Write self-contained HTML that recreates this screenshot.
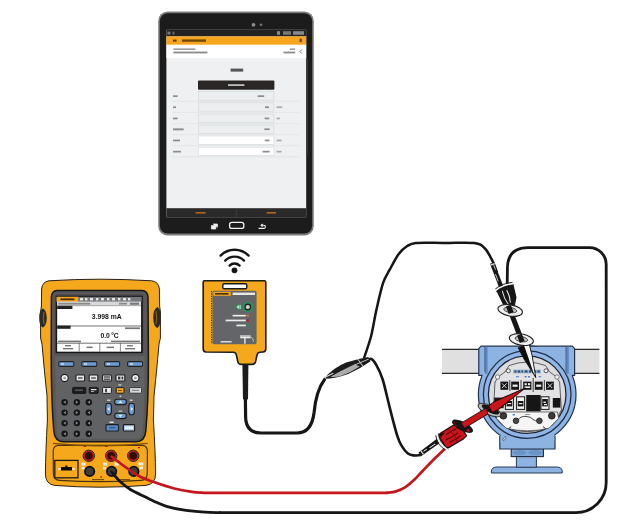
<!DOCTYPE html>
<html>
<head>
<meta charset="utf-8">
<title>Calibration setup</title>
<style>
html,body{margin:0;padding:0;background:#fff;}
body{width:627px;height:529px;overflow:hidden;font-family:"Liberation Sans",sans-serif;}
svg{display:block;position:absolute;left:0;top:0;}
text{font-family:"Liberation Sans",sans-serif;}
</style>
</head>
<body>
<svg width="627" height="529" viewBox="0 0 627 529">
<defs>
  <filter id="soft" x="-5%" y="-5%" width="110%" height="110%"><feGaussianBlur stdDeviation="0.5"/></filter>
</defs>
<rect width="627" height="529" fill="#ffffff"/>
<g filter="url(#soft)">

<!-- ================= TABLET ================= -->
<g id="tablet">
  <rect x="158.2" y="11.6" width="155.6" height="223.8" rx="9.4" ry="9.4" fill="#7d7d7d"/>
  <rect x="159.8" y="13.2" width="152.4" height="220.4" rx="8" ry="8" fill="#1b1b1c"/>
  <!-- camera -->
  <circle cx="253.5" cy="24.8" r="1.9" fill="#8c8c8c"/>
  <circle cx="261" cy="24.8" r="1.4" fill="#707070"/>
  <!-- screen -->
  <rect x="166.4" y="29.8" width="139.8" height="187.4" fill="#eef0f1"/>
  <!-- status bar -->
  <rect x="166.4" y="29.8" width="139.8" height="6.6" fill="#222"/>
  <rect x="167.5" y="31.6" width="3" height="3" fill="#777"/>
  <rect x="172.5" y="31.6" width="2" height="3" fill="#666"/>
  <rect x="277" y="31.2" width="3" height="3.6" fill="#888"/>
  <rect x="283" y="31.2" width="8" height="3.6" fill="#777"/>
  <rect x="293" y="31.2" width="11" height="3.6" fill="#888"/>
  <!-- orange bar -->
  <rect x="166.4" y="36.4" width="139.8" height="8.4" fill="#f6a51d"/>
  <rect x="166.4" y="44.2" width="139.8" height="1" fill="#f9c872"/>
  <rect x="173" y="39.6" width="3.5" height="2" fill="#5b3a05"/>
  <rect x="182" y="39.4" width="24" height="2.4" fill="#5b3a05" opacity=".85"/>
  <rect x="299.6" y="38.6" width="2.2" height="3.6" fill="#6a4508"/>
  <!-- white header -->
  <rect x="166.4" y="45.2" width="139.8" height="13" fill="#ffffff"/>
  <rect x="173.4" y="48.4" width="22" height="1.6" fill="#9a9a9a"/>
  <rect x="173.4" y="51.6" width="34" height="1.8" fill="#8a8a8a"/>
  <rect x="289.8" y="48.4" width="5.4" height="1.6" fill="#9a9a9a"/>
  <rect x="283.5" y="51.6" width="11.7" height="1.8" fill="#8a8a8a"/>
  <path d="M301.8 49.6 l-1.8 2 l1.8 2" fill="none" stroke="#555" stroke-width=".8"/>
  <!-- title -->
  <rect x="230.6" y="68.6" width="12.6" height="3" fill="#555"/>
  <!-- black button -->
  <rect x="198" y="80.6" width="76.4" height="9.2" rx="1" fill="#2b2826"/>
  <rect x="228" y="84.2" width="16.4" height="1.8" fill="#bdbdbd"/>
  <!-- table rows -->
  <g stroke="#dfe2e4" stroke-width=".7">
    <line x1="172" y1="101.3" x2="299" y2="101.3"/>
    <line x1="172" y1="112.4" x2="299" y2="112.4"/>
    <line x1="172" y1="123.6" x2="299" y2="123.6"/>
    <line x1="172" y1="134.6" x2="299" y2="134.6"/>
    <line x1="172" y1="145.6" x2="299" y2="145.6"/>
    <line x1="172" y1="156.8" x2="299" y2="156.8"/>
  </g>
  <g fill="#eceeef" stroke="#d3d6d8" stroke-width=".6">
    <rect x="198.3" y="91.6" width="75.6" height="8.6"/>
    <rect x="198.3" y="102.8" width="75.6" height="8.4"/>
    <rect x="198.3" y="114" width="75.6" height="8.4"/>
    <rect x="198.3" y="125" width="75.6" height="8.4"/>
  </g>
  <g fill="#ffffff" stroke="#d6d9db" stroke-width=".6">
    <rect x="198.3" y="136" width="75.6" height="8.4"/>
    <rect x="198.3" y="147.2" width="75.6" height="8.4"/>
  </g>
  <g fill="#8a8c8e">
    <rect x="173" y="95.3" width="4.6" height="1.7"/>
    <rect x="173" y="106.4" width="3" height="1.7"/>
    <rect x="173" y="117.6" width="4.6" height="1.7"/>
    <rect x="173" y="128.4" width="10.6" height="1.9"/>
    <rect x="173" y="139.6" width="7" height="1.7"/>
    <rect x="173" y="150.8" width="8" height="1.7"/>
    <rect x="257.6" y="95.3" width="6.6" height="1.7"/>
    <rect x="265" y="106.4" width="4" height="1.7"/>
    <rect x="264.6" y="117.6" width="4.6" height="1.7"/>
    <rect x="264.4" y="128.4" width="5.2" height="1.7"/>
    <rect x="264.8" y="139.6" width="4.6" height="1.7"/>
    <rect x="262.6" y="150.8" width="7" height="1.7"/>
    <rect x="276.6" y="106.4" width="5.6" height="1.7" opacity=".7"/>
    <rect x="276.6" y="117.6" width="3.2" height="1.7" opacity=".7"/>
    <rect x="276.6" y="139.6" width="5" height="1.7" opacity=".7"/>
    <rect x="276.6" y="150.8" width="5" height="1.7" opacity=".7"/>
  </g>
  <!-- bottom bar -->
  <rect x="166.4" y="208.2" width="139.8" height="9" fill="#2c2a29"/>
  <line x1="236.3" y1="208.2" x2="236.3" y2="217.2" stroke="#4a4846" stroke-width=".6"/>
  <rect x="195.6" y="212" width="10" height="1.6" fill="#b4651e"/>
  <rect x="266.6" y="212" width="9.4" height="1.6" fill="#b4651e"/>
  <!-- scrollbar hint -->
  <rect x="306.3" y="58" width="1.6" height="98" fill="#3a3a3a"/>
  <!-- hardware buttons -->
  <rect x="229.6" y="222.4" width="14.2" height="6" rx="2.2" fill="none" stroke="#f2f2f2" stroke-width="1.3"/>
  <path d="M211.4 225.6 h4.4 v3.4 h-4.4 z M213 224 h4.4 v3.4" fill="#f2f2f2" stroke="#f2f2f2" stroke-width=".7"/>
  <path d="M258.6 228.4 h5.2 a1.6 1.6 0 0 0 0 -3.2 h-2.4 m1.2 -1.4 l-1.5 1.4 l1.5 1.4" fill="none" stroke="#f2f2f2" stroke-width="1.1"/>
</g>


<!-- ================= CALIBRATOR ================= -->
<g id="calibrator">
  <!-- outer holster -->
  <path d="M49 280.8 Q100 277.6 151.6 280.8 Q158.6 281.6 159.4 289 L159.6 306 L160.4 312 L160.4 338 L159 344 Q156.6 372 154 396 L153.4 420 Q155.4 452 155.6 474 Q155.6 484 146 485.4 Q100 489 54.6 485.4 Q45.4 484 45.4 474 Q45.6 452 47.4 420 L47 396 Q44.4 372 42 344 L40.6 338 L40.6 312 L41.4 306 L41.6 289 Q42.4 281.6 49 280.8 Z" fill="#f5a81f" stroke="#2a2015" stroke-width="1"/>
  <!-- side grips -->
  <path d="M42.6 308.6 Q39 311 39.2 318 Q39 325 42.6 327.6 Q46.6 326 46.8 318 Q46.6 310 42.6 308.6 Z" fill="#2b2927"/><path d="M44 312 Q42.6 318 44 324" stroke="#8a5e12" stroke-width="1.2" fill="none"/>
  <path d="M157.4 307 Q161 309.6 160.8 317.4 Q161 325.4 157.4 328 Q153.4 326.4 153.2 317.4 Q153.4 309 157.4 307 Z" fill="#2b2927"/><path d="M156 311 Q157.4 317.4 156 324" stroke="#8a5e12" stroke-width="1.2" fill="none"/>
  <!-- dark inner body -->
  <path d="M57 290.6 L142 290.6 Q147.6 291 148 297 L148.4 356 Q148.6 400 145.8 431 Q145 441.6 136 441.8 L63.6 441.8 Q54.6 441.6 53.8 431 Q51.2 400 51.2 356 L51.4 297 Q51.8 291 57 290.6 Z" fill="#58595b" stroke="#161616" stroke-width="1.5"/>
  <!-- keypad grey -->
  <path d="M55.4 356.6 L144.4 356.6 Q144.8 400 142.6 431 Q142 438.6 135.6 438.8 L64 438.8 Q57.6 438.6 57 431 Q55 400 55.4 356.6 Z" fill="#616264"/>
  <!-- bezel -->
  <rect x="54.6" y="294" width="89.2" height="60.4" rx="2" fill="#505153"/>
  <rect x="56.4" y="296.4" width="85.6" height="56" fill="none" stroke="#141414" stroke-width="1.4"/>
  <rect x="56.6" y="296.8" width="85" height="5.2" fill="#77787a"/>
  <rect x="56.6" y="296.8" width="21.6" height="5" fill="#f6a51d"/>
  <rect x="60.4" y="298.4" width="14" height="1.8" fill="#4a2f04"/>
  <g fill="#e7e7e7"><rect x="80" y="298" width="3" height="2.4"/><rect x="85" y="298" width="2.4" height="2.4"/><rect x="90" y="298" width="3" height="2.4"/><rect x="96" y="298" width="2.4" height="2.4"/><rect x="101" y="298" width="3" height="2.4"/><rect x="107" y="298" width="2.4" height="2.4"/><rect x="112" y="298" width="3" height="2.4"/><rect x="118" y="298" width="2.4" height="2.4"/><rect x="123" y="298" width="3" height="2.4"/><rect x="128" y="298" width="2.4" height="2.4"/></g>
  <!-- LCD -->
  <rect x="57.2" y="301.8" width="83.8" height="49.8" fill="#ffffff"/>
  <rect x="57.2" y="301.8" width="83.8" height="3.6" fill="#d8d8d8"/>
  <rect x="58.2" y="302.8" width="32" height="1.8" fill="#8a8a8a"/>
  <rect x="119" y="302.8" width="8" height="1.8" fill="#8a8a8a"/>
  <rect x="130" y="302.6" width="9" height="2.2" fill="#7a7a7a"/>
  <rect x="57.2" y="305.8" width="15.2" height="3.2" fill="#222"/>
  <line x1="57.2" y1="305.7" x2="141" y2="305.7" stroke="#555" stroke-width=".5"/>
  <text x="106.8" y="318.8" font-size="6.8" font-weight="bold" text-anchor="middle" fill="#111">3.998 mA</text>
  <line x1="57.2" y1="326" x2="141" y2="326" stroke="#333" stroke-width=".7"/>
  <rect x="57.2" y="325.6" width="13.4" height="3.2" fill="#222"/>
  <rect x="125" y="327.4" width="15" height="1.7" fill="#777"/>
  <text x="109.6" y="337.5" font-size="6.8" font-weight="bold" text-anchor="middle" fill="#111" letter-spacing="-.15">0.0 °C</text>
  <rect x="58" y="340.6" width="23" height="1.6" fill="#777"/>
  <rect x="111" y="340.6" width="29" height="1.6" fill="#777"/>
  <line x1="57.2" y1="343.2" x2="141" y2="343.2" stroke="#333" stroke-width=".7"/>
  <g stroke="#333" stroke-width=".6"><line x1="79.2" y1="343.2" x2="79.2" y2="351.6"/><line x1="99.8" y1="343.2" x2="99.8" y2="351.6"/><line x1="120.4" y1="343.2" x2="120.4" y2="351.6"/></g>
  <g fill="#777"><rect x="65" y="345" width="6" height="1.4"/><rect x="63" y="348" width="10" height="1.4"/><rect x="86.6" y="346.6" width="6" height="1.5"/><rect x="106.6" y="346.6" width="7.4" height="1.5"/><rect x="127" y="345" width="6" height="1.4"/><rect x="125" y="348" width="10" height="1.4"/></g>
  <!-- F keys -->
  <g fill="#6c9bd1" stroke="#232323" stroke-width="1.1">
    <rect x="58.8" y="361.6" width="15" height="4.8" rx="1.2"/>
    <rect x="81.8" y="361.6" width="15" height="4.8" rx="1.2"/>
    <rect x="104.6" y="361.6" width="15" height="4.8" rx="1.2"/>
    <rect x="127.6" y="361.6" width="15" height="4.8" rx="1.2"/>
  </g>
  <g fill="#e8eef6"><rect x="61" y="363.4" width="3" height="1.2"/><rect x="84" y="363.4" width="3" height="1.2"/><rect x="107" y="363.4" width="3" height="1.2"/><rect x="130" y="363.4" width="3" height="1.2"/></g>
  <!-- row 1 -->
  <circle cx="64.6" cy="378" r="3.6" fill="#ececec" stroke="#232323" stroke-width="1.1"/>
  <circle cx="64.6" cy="378" r="1.3" fill="#9a9a9a"/>
  <circle cx="135.4" cy="378" r="3.6" fill="#ececec" stroke="#232323" stroke-width="1.1"/>
  <circle cx="135.4" cy="378" r="1.3" fill="#9a9a9a"/>
  <g fill="#e6e6e6" stroke="#202020" stroke-width="1.1">
    <rect x="76" y="375" width="8.6" height="6" rx=".8"/>
    <rect x="89.2" y="375" width="8.6" height="6" rx=".8"/>
    <rect x="102.6" y="375" width="8.8" height="6" rx=".8"/>
    <rect x="116" y="375" width="8.8" height="6" rx=".8"/>
  </g>
  <g fill="#333"><rect x="78" y="377.4" width="4.6" height="1.2"/><rect x="91.2" y="377.4" width="4.6" height="1.2"/><rect x="104" y="376.4" width="6" height="1.2"/><rect x="104" y="378.6" width="6" height="1.2"/><rect x="118" y="376.6" width="2.4" height="2.8"/><rect x="121.6" y="376.6" width="1.6" height="2.8"/></g>
  <!-- row 2 -->
  <rect x="72.6" y="387.4" width="13.2" height="6" rx=".8" fill="#1e1e1e" stroke="#111" stroke-width=".8"/>
  <rect x="75" y="389.6" width="8" height="1" fill="#777"/>
  <rect x="89.2" y="387.4" width="9" height="6" rx=".8" fill="#2a2a2a" stroke="#111" stroke-width=".8"/>
  <rect x="91" y="389" width="5.4" height="1.2" fill="#ddd"/>
  <rect x="91" y="391" width="3" height="1" fill="#aaa"/>
  <rect x="102.6" y="387.4" width="8.8" height="6" rx=".8" fill="#e9e9e9" stroke="#1e1e1e" stroke-width="1"/>
  <rect x="105" y="388.8" width="2" height="3.4" fill="#444"/>
  <rect x="116.2" y="387.6" width="7.8" height="5.6" rx=".8" fill="#f6a51d" stroke="#1e1e1e" stroke-width="1"/>
  <rect x="118" y="390" width="4" height="1" fill="#7a4b06"/>
  <rect x="118.4" y="384.4" width="3" height="1.2" fill="#e0e0e0"/>
  <rect x="129.6" y="387.6" width="12" height="5.6" rx=".8" fill="#d9d9d9" stroke="#3a3a3a" stroke-width="1"/>
  <rect x="132" y="389.8" width="7" height="1.2" fill="#888"/>
  <!-- numeric pad -->
  <g fill="#171717">
    <circle cx="64.6" cy="402.2" r="3.2"/><circle cx="76.9" cy="402.2" r="3.2"/><circle cx="88.8" cy="402.2" r="3.2"/>
    <circle cx="64.6" cy="412.6" r="3.2"/><circle cx="76.9" cy="412.6" r="3.2"/><circle cx="88.8" cy="412.6" r="3.2"/>
    <circle cx="64.6" cy="423.1" r="3.2"/><circle cx="76.9" cy="423.1" r="3.2"/><circle cx="88.8" cy="423.1" r="3.2"/>
    <circle cx="64.6" cy="433.8" r="3.2"/><circle cx="76.9" cy="433.8" r="3.2"/><circle cx="88.8" cy="433.8" r="3.2"/>
  </g>
  <g fill="#8c8c8c">
    <path d="M65.8 400.6 l-2.4 1.6 l2.4 1.6z M75.8 400.6 l2.4 1.6 l-2.4 1.6z M90 400.6 l-2.4 1.6 l2.4 1.6z"/>
    <path d="M65.8 411 l-2.4 1.6 l2.4 1.6z M75.8 411 l2.4 1.6 l-2.4 1.6z M90 411 l-2.4 1.6 l2.4 1.6z"/>
    <path d="M65.8 421.5 l-2.4 1.6 l2.4 1.6z M75.8 421.5 l2.4 1.6 l-2.4 1.6z M90 421.5 l-2.4 1.6 l2.4 1.6z"/>
    <path d="M65.8 432.2 l-2.4 1.6 l2.4 1.6z M75.8 432.2 l2.4 1.6 l-2.4 1.6z M90 432.2 l-2.4 1.6 l2.4 1.6z"/>
  </g>
  <!-- d-pad -->
  <g fill="#6c9bd1" stroke="#1d1d1d" stroke-width="1.1">
    <rect x="114.6" y="399.2" width="11.8" height="5.4" rx="2.7"/>
    <rect x="114.6" y="413.2" width="11.8" height="5.4" rx="2.7"/>
    <rect x="105.8" y="403.2" width="5.6" height="11.6" rx="2.8"/>
    <rect x="128.8" y="403.2" width="5.6" height="11.6" rx="2.8"/>
  </g>
  <g fill="#e8f0fa"><path d="M120.4 400.4 l2 2.6 h-4z"/><path d="M120.4 417.4 l2 -2.6 h-4z"/><path d="M107.2 409 l2.4 -2 v4z"/><path d="M133.2 409 l-2.4 -2 v4z"/></g>
  <g fill="#e0e0e0"><rect x="119.6" y="395.6" width="1.6" height="1.4"/><rect x="107" y="399.6" width="3.6" height="1.2"/><rect x="129.6" y="399.6" width="3" height="1.2"/><rect x="118.6" y="410.6" width="3.6" height="1"/></g>
  <rect x="106" y="424.6" width="12.4" height="6.4" rx=".8" fill="#5d8dc6" stroke="#1d1d1d" stroke-width="1.1"/>
  <rect x="109" y="427" width="6.4" height="1.4" fill="#2d5b95"/>
  <rect x="109.6" y="421.6" width="4" height="1.4" fill="#efefef"/>
  <rect x="123.4" y="424.6" width="11.2" height="6.4" rx=".8" fill="#a9c8ea" stroke="#1d1d1d" stroke-width="1.1"/>
  <rect x="125" y="426.4" width="8" height="2.8" fill="#e6f0fb"/>
  <!-- lower jack panel -->
  <path d="M58 445.4 L142.6 445.4 Q147.2 446 147.4 451 L147.2 474 Q147 480 141 480.4 Q100 483 59.6 480.4 Q53.6 480 53.4 474 L53.2 451 Q53.4 446 58 445.4 Z" fill="#f5a81f" stroke="#4a3208" stroke-width="1.2"/>
  <path d="M53 443.4 Q100 448.4 147.6 443.4" fill="none" stroke="#7a4f07" stroke-width="1.2"/>
  <!-- port box -->
  <rect x="54.8" y="460.4" width="23.2" height="17.4" fill="#f5a81f" stroke="#1b1b1b" stroke-width="1.3"/>
  <path d="M61 467 h4.4 v-1.6 h2 v1.6 h4.6 v3.6 h-11z" fill="#111"/>
  <rect x="58" y="468.2" width="2.6" height="1.6" fill="#eee"/>
  <rect x="72.2" y="468.2" width="2.6" height="1.6" fill="#eee"/>
  <!-- jacks top (red) -->
  <g fill="#2a0d0d" stroke="#b8141d" stroke-width="1.5">
    <circle cx="88.8" cy="455.8" r="4.5"/><circle cx="111.2" cy="455.8" r="4.5"/><circle cx="133.2" cy="455.8" r="4.5"/>
  </g>
  <g fill="none" stroke="#111" stroke-width=".9">
    <circle cx="88.8" cy="455.8" r="5.7"/><circle cx="111.2" cy="455.8" r="5.7"/><circle cx="133.2" cy="455.8" r="5.7"/>
  </g>
  <!-- jacks bottom (black) -->
  <g fill="#3c3c3c" stroke="#111" stroke-width="1.8">
    <circle cx="89.6" cy="471.4" r="4.7"/><circle cx="111.6" cy="471.4" r="4.7"/><circle cx="133.8" cy="471.4" r="4.7"/>
  </g>
  <g fill="#e9e9e9">
    <rect x="81.4" y="462.6" width="4.2" height="3"/><rect x="81.6" y="467" width="3" height="2.4"/>
    <rect x="103" y="462.6" width="4.2" height="3"/><rect x="114.6" y="462.6" width="4.2" height="3"/>
    <rect x="103" y="467" width="3" height="2.4"/>
    <rect x="138.4" y="462.4" width="5" height="3"/><rect x="139.4" y="466.6" width="3.6" height="2.6"/>
  </g>
  <g fill="#b8141d"><rect x="83.6" y="445.8" width="2.4" height="1.2"/><rect x="105" y="445.8" width="2.4" height="1.2"/><rect x="138" y="447" width="2" height="1.2"/><rect x="100.4" y="476.4" width="1.6" height="1.4"/></g>
  <g fill="#7a4f07"><rect x="92" y="479" width="12" height="1.2"/><rect x="118" y="479" width="12" height="1.2"/></g>
</g>


<!-- ================= WIRELESS MODULE ================= -->
<g id="module">
  <path d="M204.4 280.8 L264.4 280.8 Q265.8 280.8 265.8 282.2 L265.8 349 Q265.8 351.8 263 352 L259.6 352.2 Q257.4 352.6 257 355 L255.6 361.6 Q255 364.4 252 364.4 L241.4 364.4 Q238.4 364.4 237.8 361.6 L236.4 355 Q236 352.6 233.8 352.2 L206 352 Q203.2 351.8 203.2 349 L203.2 282.2 Q203.2 280.8 204.4 280.8 Z" fill="#f5a81f" stroke="#1a1a1a" stroke-width="1.6"/>
  <rect x="222.8" y="283.8" width="24" height="5" rx="1.4" fill="#ffffff" stroke="#1a1a1a" stroke-width="1.4"/>
  <rect x="212.4" y="290.8" width="44.2" height="53.4" rx="1.6" fill="#646567"/>
  <line x1="211.6" y1="291" x2="211.6" y2="344" stroke="#3a2a08" stroke-width="1" stroke-dasharray="1.2 1.2"/>
  <rect x="213.4" y="291.8" width="17.4" height="4" fill="#f5a81f"/>
  <rect x="215" y="293" width="13.6" height="1.6" fill="#4a2f04"/>
  <rect x="232.6" y="292.6" width="22.4" height="2.4" fill="#e8e8e8"/>
  <!-- green button -->
  <path d="M242.8 304 L247.8 301.2 L252.8 304 L252.8 310 L247.8 312.8 L242.8 310 Z M243.4 307 L238.4 303.4 L234.6 307 L238.4 310.6 Z" fill="#2f8f5a"/>
  <circle cx="247.8" cy="307" r="3.4" fill="#222"/>
  <circle cx="247.8" cy="307" r="2.1" fill="#cfd6d2"/>
  <path d="M236.6 307 l2.2 -2 v4z" fill="#dfeee6"/>
  <rect x="239.6" y="305" width="1" height="4" fill="#dfeee6"/>
  <!-- led labels -->
  <rect x="232.6" y="314.8" width="13.2" height="1.7" fill="#ececec"/>
  <rect x="225.6" y="319.6" width="20.2" height="1.7" fill="#ececec"/>
  <rect x="236.4" y="324.6" width="9.4" height="1.7" fill="#ececec"/>
  <circle cx="247.8" cy="315.6" r="1.2" fill="#d9801c"/>
  <circle cx="247.8" cy="320.4" r="1.2" fill="#c4161c"/>
  <circle cx="247.8" cy="325.4" r="1.2" fill="#2e8b57"/>
  <!-- bottom labels -->
  <rect x="240" y="335.4" width="10.6" height="1.3" fill="#e6e6e6"/>
  <path d="M240.2 337.6 h10.4 M244.9 337.6 v6.2" stroke="#f0f0f0" stroke-width="1.3" fill="none"/>
  <path d="M250.8 337 q3 1 2.6 4.6" stroke="#ddd" stroke-width=".7" fill="none"/>
  <rect x="220.6" y="341" width="11" height="1.5" fill="#dcdcdc"/>
  <!-- strain relief -->
  <path d="M242.4 364.6 L248.4 364.6 L248 399.4 L243 399.4 Z" fill="#1c1c1c"/>
  <rect x="243.2" y="399.6" width="4.4" height="1.3" fill="#e8e8e8"/>
</g>

<!-- ================= CABLES ================= -->
<g id="cables" fill="none" stroke-linecap="round" stroke-linejoin="round">
  <!-- module cable to splice -->
  <path d="M245.4 399 L245.6 417 Q246 432.8 261 433 L297 433 Q311.4 433 314 413 Q316 391 324.6 379.4" stroke="#151515" stroke-width="3.2"/>
  <!-- wire from splice up and over to black probe plug -->
  <path d="M364.2 357.6 C365.4 354.0 369.1 343.8 371.2 335.8 C373.2 327.8 374.5 318.2 376.5 309.4 C378.5 300.6 380.9 289.5 383.1 282.9 C385.3 276.3 387.1 274.5 389.7 269.7 C392.3 264.9 396.0 257.7 398.9 253.8 C401.8 249.9 404.0 248.1 406.9 246.3 C409.8 244.5 409.8 243.6 416.1 243.0 C422.5 242.4 435.3 243.0 445.0 243.0 C454.7 243.0 467.7 242.1 474.3 243.0 C480.9 243.9 481.8 245.4 484.9 248.5 C488.0 251.6 490.9 257.8 492.9 261.7 C494.8 265.6 496.0 270.0 496.6 271.6" stroke="#151515" stroke-width="2.5"/>
  <!-- wire from splice down to black plug near red probe -->
  <path d="M366.0 360.8 C366.9 360.5 369.6 358.3 371.3 358.9 C373.0 359.5 374.1 361.0 376.0 364.4 C377.9 367.8 380.4 372.4 382.7 379.5 C384.9 386.6 387.1 397.2 389.5 406.7 C391.9 416.1 395.3 429.6 397.4 436.2 C399.5 442.8 400.3 443.6 402.0 446.4 C403.7 449.2 405.7 451.7 407.6 453.2 C409.5 454.7 411.3 455.1 413.3 455.4 C415.3 455.7 418.6 455.2 419.6 455.2" stroke="#151515" stroke-width="2.6"/>
  <!-- right loop black wire -->
  <path d="M507.2 286 L507.4 268 Q507.8 247.6 528 247.6 L589.4 247.6 A16.8 16.8 0 0 1 606.2 264.4 L606.2 482.6 A30 30 0 0 1 576.2 512.6 L220 512.6" stroke="#151515" stroke-width="2.8"/><path d="M111.7 471.9 C113.2 473.6 117.4 479.1 120.6 482.1 C123.8 485.1 127.4 487.7 130.8 489.8 C134.2 491.9 137.2 493.0 141.0 494.9 C144.8 496.8 149.6 499.3 153.8 501.2 C158.1 503.1 161.4 504.8 166.5 506.3 C171.6 507.8 178.0 509.2 184.4 510.2 C190.8 511.2 198.9 511.8 204.8 512.2 C210.7 512.6 217.5 512.5 220.0 512.6" stroke="#151515" stroke-width="2.8"/>
  <!-- red wire -->
  <path d="M111.7 456.6 C113.6 458.1 118.7 462.3 123.2 465.5 C127.7 468.7 133.4 472.9 138.5 475.7 C143.6 478.5 147.9 480.0 153.8 482.1 C159.8 484.2 167.8 486.9 174.2 488.5 C180.6 490.1 187.0 491.1 192.0 491.8 C197.0 492.5 202.0 492.6 204.0 492.8 L387 492.8" stroke="#c4161c" stroke-width="2.7"/><path d="M447.3 446.4 C445.2 448.4 439.0 454.3 435.0 458.2 C431.0 462.1 426.9 466.5 423.5 470.0 C420.1 473.5 417.9 476.4 414.8 479.3 C411.7 482.2 408.1 485.4 405.0 487.4 C401.9 489.4 399.0 490.5 396.0 491.4 C393.0 492.3 388.5 492.6 387.0 492.8" stroke="#c4161c" stroke-width="2.7"/>
</g>
<!-- splice connector -->
<g id="splice" transform="translate(346.6,368.7) rotate(-23)">
  <path d="M-25 .6 Q-12 -6.2 2 -5.8 Q14 -5 24.6 -2.4 L25 2.4 Q12 5.2 0 5.6 Q-14 5 -25 .6 Z" fill="#1b1b1b"/>
  <path d="M-18 1.2 Q-6 -.4 9 -1 L13 3 Q2 5 -8 4.4 Q-14 3.6 -18 1.2 Z" fill="#ababab"/>
  <path d="M-22 -.6 L-14 -1" stroke="#d9d9d9" stroke-width="1.1"/>
  <path d="M9 -.4 L24 -.2" stroke="#cfcfcf" stroke-width=".9"/>
  <path d="M14 -4.6 L16 4.2" stroke="#d0d0d0" stroke-width=".9"/>
  <path d="M-23.4 -1.8 L-22.6 2.4" stroke="#d0d0d0" stroke-width=".9"/>
</g>

<!-- ================= TRANSMITTER ================= -->
<g id="transmitter">
  <!-- pipe -->
  <rect x="442" y="349.4" width="157.4" height="24" fill="#e0e0e1"/>
  <path d="M442 349.4 H599.4 M442 373.4 H599.4" stroke="#2a2a2a" stroke-width="1.3"/>
  <!-- base / stem -->
  <path d="M491.4 473 L491.4 471 Q491.8 467 497 467 L556.6 467 Q561.8 467 562.2 471 L562.2 473 Z" fill="#8db3e2" stroke="#2c3a52" stroke-width="1"/>
  <rect x="516.4" y="456" width="20" height="11.2" fill="#8db3e2" stroke="#2c3a52" stroke-width="1"/>
  <rect x="511.2" y="448.6" width="32.2" height="8" fill="#7fa6d6" stroke="#1f2a3c" stroke-width="1.1"/>
  <ellipse cx="519.4" cy="452.6" rx="6.6" ry="2.6" fill="#6b93c6"/>
  <ellipse cx="535.2" cy="452.6" rx="6.6" ry="2.6" fill="#6b93c6"/>
  <!-- housing -->
  <circle cx="527.2" cy="394.6" r="48.8" fill="#8db3e2" stroke="#24324a" stroke-width="1.2"/>
  <path d="M499.8 436 L499.8 449 L555 449 L555 436" fill="#8db3e2" stroke="#24324a" stroke-width="1.2"/>
  <rect x="500.6" y="432" width="53.6" height="11" fill="#8db3e2"/>
  <path d="M502.6 439.8 l2.2 -3.4 l1.4 .8 l-2.2 3.4z" fill="#d6e3f4" stroke="#2c3a52" stroke-width=".6"/>
  <path d="M481 346.2 L572.4 346.2 L574.6 348.6 L574.6 375.4 L478.8 375.4 L478.8 348.6 Z" fill="#8db3e2" stroke="#24324a" stroke-width="1.2" stroke-linejoin="round"/>
  <rect x="482.6" y="368" width="89.2" height="12" fill="#8db3e2"/>
  <rect x="485" y="346.8" width="2.6" height="27" fill="#5e86c0"/>
  <rect x="566.2" y="346.8" width="2.6" height="27" fill="#5e86c0"/>
  <path d="M484.8 346.8 V372 M566 346.8 V372" stroke="#2f4670" stroke-width=".7"/>
  <circle cx="527.2" cy="394.6" r="43.8" fill="#8fb6e6" stroke="#1f2d47" stroke-width="1.3"/>
  <circle cx="527.2" cy="394.6" r="38.8" fill="#dcdcde" stroke="#1f2433" stroke-width="1.3"/>
  <!-- inner plate -->
  <path d="M509 365.6 Q527 358.6 545.6 365.6 L549.6 372 Q556 375 559.6 382 L561.4 410 L553 424.6 Q541 431.6 527.2 431.6 Q513 431.6 501.6 424.6 L493.4 410 L495 382 Q498.6 375 505 372 Z" fill="#e2e2e4" stroke="#3c3c3c" stroke-width=".8"/>
  <circle cx="508.4" cy="370.8" r="2" fill="#f5f5f5" stroke="#333" stroke-width=".8"/>
  <circle cx="546" cy="370.8" r="2" fill="#f5f5f5" stroke="#333" stroke-width=".8"/>
  <circle cx="497.6" cy="377" r="2.2" fill="#f1f1f1" stroke="#555" stroke-width=".7"/>
  <circle cx="557" cy="377" r="2.2" fill="#f1f1f1" stroke="#555" stroke-width=".7"/>
  <!-- label strip -->
  <rect x="513" y="369.6" width="28" height="3.8" fill="#9fb6cf"/>
  <g fill="#30507c"><rect x="514.4" y="370.4" width="2" height="2.2"/><rect x="517.6" y="370.4" width="2.6" height="2.2"/><rect x="521.4" y="370.4" width="1.6" height="2.2"/><rect x="524.6" y="370.4" width="3" height="2.2"/><rect x="529" y="370.4" width="2" height="2.2"/><rect x="533.6" y="370.4" width="2.6" height="2.2"/><rect x="537.4" y="370.4" width="2.4" height="2.2"/></g>
  <g fill="#4f7fc0"><rect x="516" y="376.2" width="3" height="1"/><rect x="524.6" y="376" width="2" height="1.4"/><rect x="528" y="376" width="2" height="1.4"/><rect x="538.6" y="376.2" width="2.6" height="1"/></g>
  <!-- terminal row 1 -->
  <g fill="#161616">
    <rect x="500.4" y="381.6" width="7.8" height="8.2"/><rect x="511.2" y="381.6" width="7.8" height="8.2"/><rect x="523.2" y="381.6" width="8.2" height="8.2"/><rect x="534.8" y="381.6" width="7.8" height="8.2"/><rect x="546" y="381.6" width="7.8" height="8.2"/>
  </g>
  <g stroke="#161616" stroke-width=".8"><line x1="509.8" y1="380" x2="509.8" y2="391"/><line x1="521" y1="380" x2="521" y2="391"/><line x1="533.2" y1="378" x2="533.2" y2="392"/><line x1="544.4" y1="380" x2="544.4" y2="391"/></g>
  <g stroke="#f0f0f0" stroke-width=".9" fill="none">
    <path d="M502 383.4 l4.6 4.6 M506.6 383.4 l-4.6 4.6"/>
    <path d="M547.6 383.4 l4.6 4.6 M552.2 383.4 l-4.6 4.6"/>
  </g>
  <g fill="#f0f0f0"><rect x="512.6" y="384.6" width="5" height="2.2"/><rect x="536.2" y="384.6" width="5" height="2.2"/><rect x="524.6" y="383.2" width="2.2" height="2"/><rect x="528" y="383.2" width="2.2" height="2"/><rect x="524.6" y="386.4" width="5.6" height="1.6"/></g>
  <!-- terminal row 2 -->
  <rect x="494.2" y="397.6" width="9.4" height="10.6" fill="#161616"/>
  <rect x="505.4" y="396.8" width="8" height="12.6" fill="#f4f4f4" stroke="#161616" stroke-width="1"/>
  <rect x="516.6" y="396.8" width="8" height="12.6" fill="#f4f4f4" stroke="#161616" stroke-width="1"/>
  <rect x="541" y="396.8" width="8" height="12.6" fill="#f4f4f4" stroke="#161616" stroke-width="1"/>
  <g fill="#161616"><rect x="506.6" y="401" width="5.6" height="5.4"/><rect x="517.8" y="401" width="5.6" height="5.4"/><rect x="542.2" y="399" width="5.6" height="7.4"/></g>
  <g fill="#eee"><rect x="507.6" y="403" width="3.6" height="1.2"/><rect x="518.8" y="403" width="3.6" height="1.2"/><rect x="543.4" y="401.6" width="2.4" height="1.4"/><rect x="544" y="404" width="3" height="1.2"/></g>
  <rect x="526.2" y="395" width="14.4" height="16.4" fill="#141414"/>
  <rect x="552.8" y="398" width="7.6" height="9.6" fill="#141414"/>
  <!-- lower screws / jumper -->
  <path d="M497.6 412 L557.4 412 L558.6 418.4 L549 428.2 Q527.4 433.4 506 428.2 L496.4 418.4 Z" fill="#f5f5f5" stroke="#3a3a3a" stroke-width=".7"/>
  <circle cx="503.4" cy="415.8" r="3.3" fill="#3a3a3a" stroke="#161616" stroke-width=".9"/>
  <circle cx="551.8" cy="415.8" r="3.3" fill="#3a3a3a" stroke="#161616" stroke-width=".9"/>
  <path d="M518 420.4 Q520 416 526 416.4 Q531 416.6 533 419.4 Q535 421.4 539 420.6" fill="none" stroke="#333" stroke-width=".9"/>
  <circle cx="516" cy="420.8" r="2.8" fill="#4a4a4a" stroke="#161616" stroke-width=".8"/>
  <circle cx="539.4" cy="420.8" r="2.8" fill="#4a4a4a" stroke="#161616" stroke-width=".8"/>
  <rect x="512.6" y="414" width="2.4" height="1.4" fill="#4f7fc0"/>
  <rect x="525" y="414" width="5" height="1" fill="#999"/>
  <path d="M508.6 428.6 l2.6 -2 M545.6 428.6 l-2.6 -2" stroke="#333" stroke-width="1"/>
</g>

<!-- ================= BLACK PROBE ================= -->
<g id="blackprobe" transform="translate(535.8,377.5) rotate(249.1)">
  <!-- tip -->
  <path d="M0 0 L22 -4.4 L34 -5.8 L34 5.8 L22 4.4 Z" fill="#f6f6f6" stroke="#111" stroke-width=".9" stroke-linejoin="round"/>
  <path d="M4 -.5 L22 -4.4 L34 -5.8 L34 .4 L22 .2 Z" fill="#111"/>
  <!-- lower handle -->
  <rect x="42" y="-2.5" width="28" height="5" fill="#131313"/>
  <!-- ring 2 -->
  <g transform="translate(40.6,0) rotate(121)"><ellipse cx="0" cy="0" rx="12.2" ry="5.6" fill="#f2f2f2" stroke="#222" stroke-width="1.1"/><ellipse cx="0" cy="-.4" rx="6.4" ry="2.6" fill="#bdbdbd" stroke="#333" stroke-width=".8"/></g>
  <rect x="38" y="-2.5" width="8" height="5" fill="#131313"/>
  <!-- plug body -->
  <path d="M74 -3.6 L94 -5.2 L96.6 -4.6 L96.6 10.6 L94 11.6 L82 10 L74 5 Z" fill="#131313" stroke="#131313" stroke-width="1.2" stroke-linejoin="round"/>
  <path d="M78 .4 Q86 -1.6 93 -.4 M79 3 Q86 5 92 4" stroke="#e2e2e2" stroke-width="1.1" fill="none"/>
  <path d="M95.6 -6.4 Q98.6 2 95.6 12.4" stroke="#f2f2f2" stroke-width="1.8" fill="none"/>
  <path d="M94.4 -6.6 Q97.2 2 94.4 12.6 M97.2 -6.2 Q100 2 97.2 12.2" stroke="#1a1a1a" stroke-width=".8" fill="none"/>
  <!-- ring 1 -->
  <g transform="translate(71.8,0) rotate(121)"><ellipse cx="0" cy="0" rx="12.4" ry="5.6" fill="#f2f2f2" stroke="#222" stroke-width="1.1"/><ellipse cx="0" cy="-.4" rx="6.6" ry="2.6" fill="#bdbdbd" stroke="#333" stroke-width=".8"/></g>
  <rect x="69" y="-2.6" width="8" height="5.2" fill="#131313"/>
  <!-- upper plug -->
  <rect x="97.6" y="-2.2" width="25" height="4.4" fill="#161616"/>
  <path d="M103 -.8 L111 -.8 M115 .8 L120 .8" stroke="#d0d0d0" stroke-width=".8"/>
  <rect x="120.4" y="-2.2" width="1.4" height="4.4" fill="#e0e0e0"/>
</g>

<!-- ================= RED PROBE ================= -->
<g id="redprobe" transform="translate(525.4,388) rotate(149)">
  <!-- plug pin -->
  <path d="M100 -3 L124.6 -4.8 L125 -.4 L100 2.2 Z" fill="#161616"/>
  <path d="M106 -1.4 L113 -1.9 M116 -1.6 L120 -1.9" stroke="#e6e6e6" stroke-width=".9"/>
  <path d="M121.6 -4.4 L122 -.4" stroke="#e6e6e6" stroke-width="1.2"/>
  <!-- ring 1 (guard) -->
  <g transform="translate(42.2,-.4) rotate(56.6)">
    <ellipse cx="0" cy="0" rx="12.4" ry="4.6" fill="#b9b9b9" stroke="#2a2a2a" stroke-width=".9"/>
    <ellipse cx="-.6" cy="1" rx="9.6" ry="3.2" fill="#151515"/>
  </g>
  <!-- tip taper -->
  <path d="M0 0 L34 -4.4 L41 -4 L41 3.4 L34 4.4 Z" fill="#c8121c" stroke="#1a0b0b" stroke-width=".9" stroke-linejoin="round"/>
  <!-- thin shaft -->
  <path d="M45.6 -3 L72 -3 L72 3 L43.6 3 Z" fill="#c8121c" stroke="#1a0b0b" stroke-width=".8"/>
  <!-- fat body -->
  <path d="M75 -10.6 L80 -11.8 L96 -11.6 L98.8 -10.2 L99.2 3.4 L96.6 5 L82 5.2 L75 4 Z" fill="#c8121c" stroke="#1a0b0b" stroke-width="1.2" stroke-linejoin="round"/>
  <path d="M80 -7.4 Q86 -8.6 93 -7.4 M81 -3.6 Q88 -4.6 95 -3.6 M80 .6 Q86 1.4 92 .8" stroke="#4a080c" stroke-width="1" fill="none"/>
  <path d="M86 -11 Q84 -3 88 4.6" stroke="#7a0c12" stroke-width=".8" fill="none"/>
  <path d="M92 3.4 L97 4.6 L98.4 1 Z" fill="#1a0b0b"/>
  <!-- ring 2 -->
  <g transform="translate(73.6,-.4) rotate(58.5)">
    <ellipse cx="0" cy="0" rx="11.6" ry="4.4" fill="#161616"/>
    <path d="M-9 -1.4 L-5.4 -2.6 L-6.4 .8 Z" fill="#c8121c"/>
    <path d="M5 -2.6 Q8 -2 9.6 0" stroke="#7a0c12" stroke-width="1" fill="none"/>
  </g>
  <path d="M66 -2.7 L72.6 -2.7 L72.6 2.7 L64.6 2.7 Z" fill="#c8121c"/>
  <!-- collar -->
  <path d="M98.6 -12.4 Q103.6 -3.6 99.6 5.8" stroke="#ededed" stroke-width="2.3" fill="none"/>
  <path d="M97.2 -12.6 Q102 -3.6 98 6 M100.2 -12 Q105.4 -3.6 101.2 5.6" stroke="#1a1a1a" stroke-width=".8" fill="none"/>
</g>

<!-- ================= WIFI ================= -->
<g id="wifi" fill="none" stroke="#151515" stroke-width="2.4" stroke-linecap="round">
  <path d="M220.6 255.6 A19.6 19.6 0 0 1 248.6 255.6"/>
  <path d="M225.2 260.6 A13.2 13.2 0 0 1 244 260.6"/>
  <path d="M229.6 265.6 A7 7 0 0 1 239.6 265.6"/>
  <circle cx="234.5" cy="270.3" r="2.9" fill="#151515" stroke="none"/>
</g>

</g>
</svg>
</body>
</html>
